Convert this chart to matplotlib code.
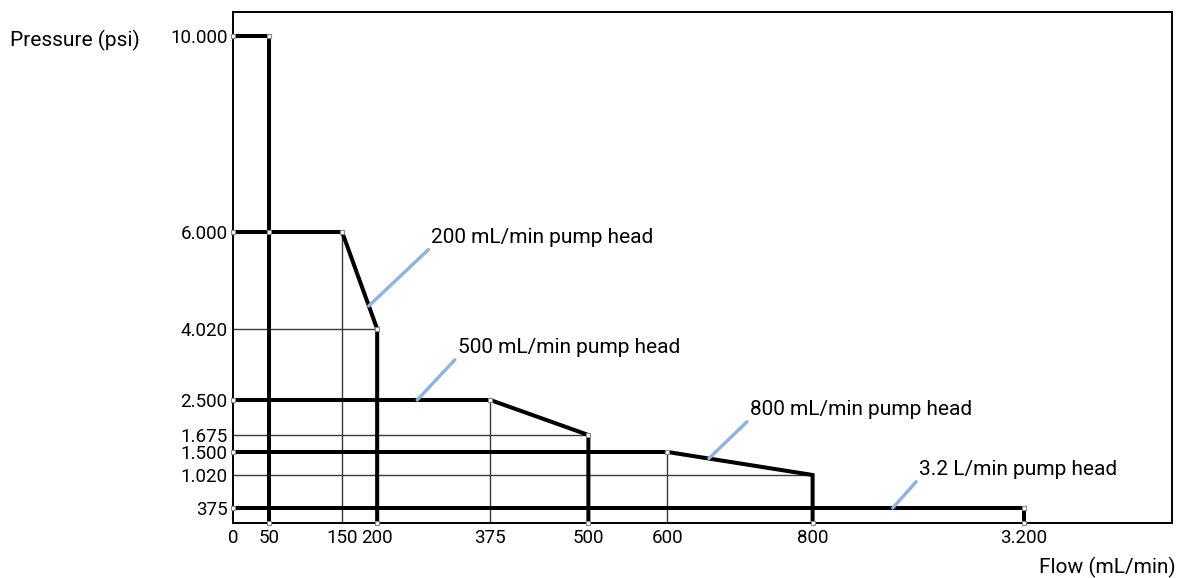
import numpy as np
import matplotlib
matplotlib.use("Agg")
import matplotlib.pyplot as plt

plt.rcParams['font.family'] = ['Roboto', 'DejaVu Sans']

# flow / pressure values
x_ticks = [0, 50, 150, 200, 375, 500, 600, 800, 3200]
x_ticklabels = ["0", "50", "150", "200", "375", "500", "600", "800", "3.200"]
y_ticks = [375, 1020, 1500, 1675, 2500, 4020, 6000, 10000]
y_ticklabels = ["375", "1.020", "1.500", "1.675", "2.500", "4.020", "6.000", "10.000"]

# operating envelopes (thick lines), flow and pressure
envelopes = [
    ([0, 50, 50], [10000, 10000, 0]),
    ([0, 150, 200, 200], [6000, 6000, 4020, 0]),
    ([0, 375, 500, 500], [2500, 2500, 1675, 0]),
    ([0, 600, 800, 800], [1500, 1500, 1020, 0]),
    ([0, 3200, 3200], [375, 375, 0]),
]
# thin helper lines
helpers = [
    ([0, 200], [4020, 4020]),
    ([150, 150], [6000, 0]),
    ([0, 500], [1675, 1675]),
    ([375, 375], [2500, 0]),
    ([0, 800], [1020, 1020]),
    ([600, 600], [1500, 0]),
]
# corner points
pts_x = [0, 50, 0, 50, 150, 200, 0, 375, 500, 0, 600, 0, 3200, 50, 200, 500, 800, 3200]
pts_y = [10000, 10000, 6000, 6000, 6000, 4020, 2500, 2500, 1675, 1500, 1500, 375, 375, 0, 0, 0, 0, 0]

labels = ["200 mL/min pump head", "500 mL/min pump head",
          "800 mL/min pump head", "3.2 L/min pump head"]
label_at = [(188, 4490), (262, 2500), (657, 1364), (1710, 375)]
label_off = [(45, 42.5), (29, 31), (29.5, 28.4), (18.7, 20.9)]

# schematic axes: piecewise linear between these breaks (not to scale)
X_BREAKS = [0, 50, 150, 200, 375, 500, 600, 800, 3200, 4882]
X_SPOTS = [0, 36, 109, 144, 257, 355, 434, 579, 790, 938]
Y_BREAKS = [0, 375, 1020, 1500, 1675, 2500, 4020, 6000, 10000, 10490]
Y_SPOTS = [0, 15, 48, 71, 88, 123, 194, 291, 487, 511]


def xf(x):
    return np.interp(np.asarray(x, dtype=float), X_BREAKS, X_SPOTS)


def xi(v):
    return np.interp(np.asarray(v, dtype=float), X_SPOTS, X_BREAKS)


def yf(y):
    return np.interp(np.asarray(y, dtype=float), Y_BREAKS, Y_SPOTS)


def yi(v):
    return np.interp(np.asarray(v, dtype=float), Y_SPOTS, Y_BREAKS)


fig = plt.figure(figsize=(11.78, 5.78), dpi=100)
ax = fig.add_axes([0.1978, 0.0952, 0.7971, 0.884])
ax.set_xscale('function', functions=(xf, xi))
ax.set_yscale('function', functions=(yf, yi))

for xs, ys in helpers:
    ax.plot(xs, ys, color="#3a3a3a", lw=1.0, solid_capstyle='butt', zorder=2)
for xs, ys in envelopes:
    ax.plot(xs, ys, color="black", lw=2.9, solid_joinstyle='miter', zorder=3)
ax.plot(pts_x, pts_y, ls='none', marker='s', ms=3.2, mfc='white', mec='#888888',
        mew=0.8, zorder=5, clip_on=False)

for txt, xy, off in zip(labels, label_at, label_off):
    ax.annotate(txt, xy=xy, xytext=off, textcoords='offset points',
                ha='left', va='bottom', fontsize=15,
                arrowprops=dict(arrowstyle='-', color='#8db3e2', lw=2.4,
                                shrinkA=0, shrinkB=0, relpos=(0, 0)))

ax.set_xlim(0, 4882)
ax.set_ylim(0, 10490)
ax.set_xticks(x_ticks)
ax.set_xticklabels(x_ticklabels)
ax.set_yticks(y_ticks)
ax.set_yticklabels(y_ticklabels)
ax.tick_params(length=0, labelsize=13.5, pad=4)
ax.xaxis.set_minor_locator(plt.NullLocator())
ax.yaxis.set_minor_locator(plt.NullLocator())
for s in ax.spines.values():
    s.set_linewidth(1.4)
    s.set_color('black')

fig.text(10 / 1178, 1 - 40 / 578, "Pressure (psi)", fontsize=15, va='center', ha='left')
fig.text(1176 / 1178, 1 - 567 / 578, "Flow (mL/min)", fontsize=15, va='center', ha='right')

fig.savefig("out.png", dpi=100)
